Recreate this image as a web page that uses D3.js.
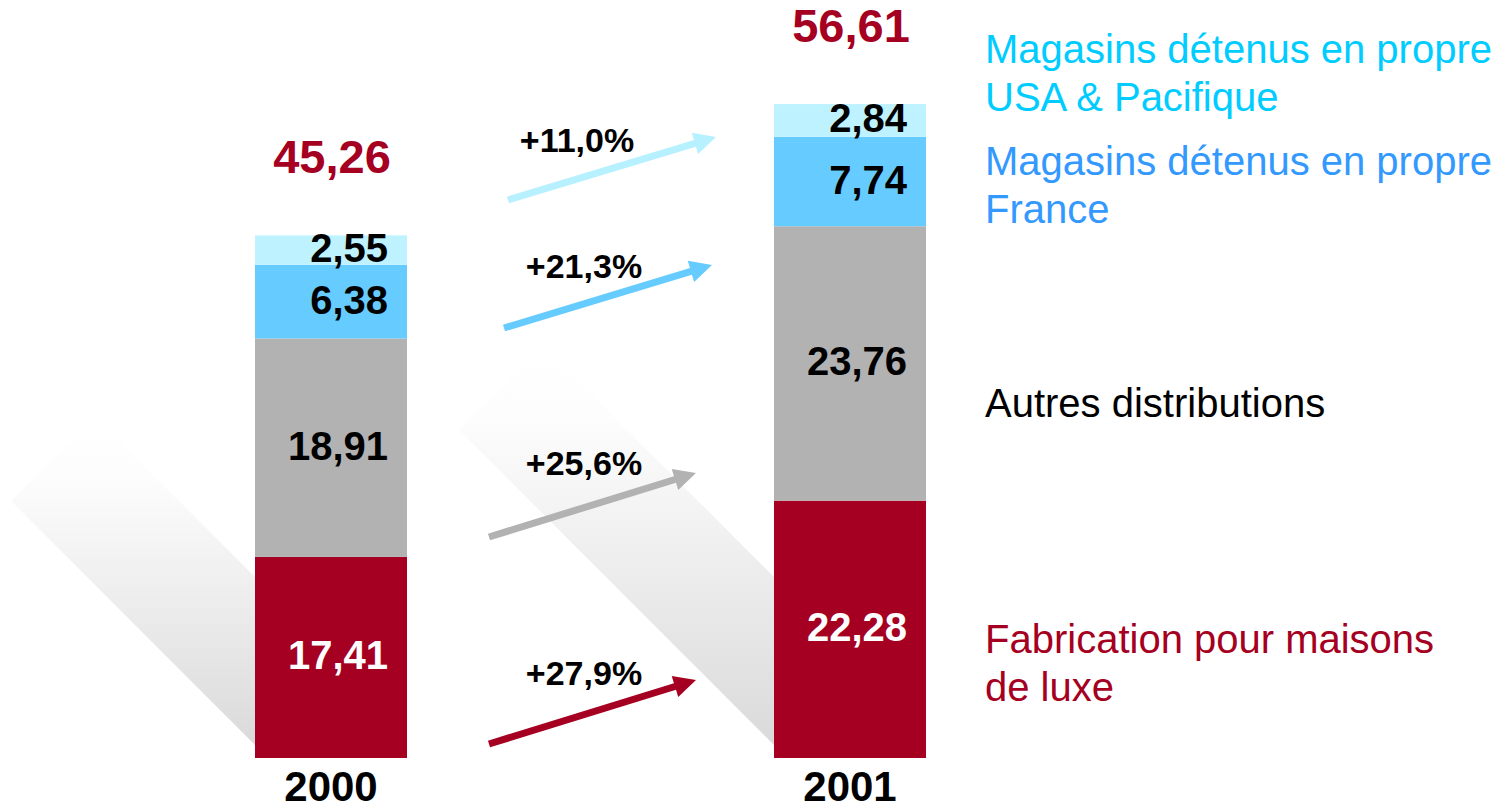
<!DOCTYPE html>
<html>
<head>
<meta charset="utf-8">
<script src="https://cdn.jsdelivr.net/npm/d3@7"></script>
<style>
  html, body { margin: 0; padding: 0; background: #fff; }
  svg { display: block; }
  text { font-family: "Liberation Sans", Arial, sans-serif; }
</style>
</head>
<body>
<svg id="chart" width="1507" height="812"></svg>
<script>
// ---------- DATA ----------
const years = ["2000", "2001"];
const seriesNames = [
  "Fabrication pour maisons de luxe",
  "Autres distributions",
  "Magasins détenus en propre France",
  "Magasins détenus en propre USA & Pacifique"
];
const fabrication = [17.41, 22.28];
const autres = [18.91, 23.76];
const france = [6.38, 7.74];
const usaPacifique = [2.55, 2.84];
const totals = [45.26, 56.61];
const growthLabels = ["+27,9%", "+25,6%", "+21,3%", "+11,0%"];
const legendLines = [
  ["Fabrication pour maisons", "de luxe"],
  ["Autres distributions"],
  ["Magasins détenus en propre", "France"],
  ["Magasins détenus en propre", "USA & Pacifique"]
];

// ---------- STYLE ----------
const colors = ["#a50021", "#b2b2b2", "#66ccff", "#bff2ff"];
const legendColors = ["#a50021", "#000000", "#3399ff", "#00ccff"];
const arrowColors = ["#a50021", "#b2b2b2", "#66ccff", "#b7f0ff"];
const segLabelColors = ["#ffffff", "#000000", "#000000", "#000000"];
const fmt = v => v.toFixed(2).replace(".", ",");

const svg = d3.select("#chart");

// ---------- SCALES ----------
const x = d3.scalePoint().domain(years).range([331, 850]);
const barW = 152;
const y = d3.scaleLinear().domain([0, 60]).range([758, 65]);

const seriesValues = [fabrication, autres, france, usaPacifique];
const rows = years.map((yr, i) => {
  const o = { year: yr };
  seriesNames.forEach((s, k) => { o[s] = seriesValues[k][i]; });
  return o;
});
const stacked = d3.stack().keys(seriesNames)(rows);

// ---------- SHADOWS ----------
const defs = svg.append("defs");
const shadowLen = [244, 315];
years.forEach((yr, i) => {
  const bx = x(yr) - barW / 2;
  const lowY = y(0) - 13;
  const upY = y(0) - 181;
  const L = shadowLen[i];
  const tip = [bx - L, lowY - L];
  const band = lowY - upY;
  const corner = [tip[0] + band / 2, tip[1] - band / 2];
  const gid = "sg" + i;
  const g = defs.append("linearGradient").attr("id", gid)
    .attr("gradientUnits", "userSpaceOnUse")
    .attr("x1", 0).attr("x2", 0).attr("y1", corner[1]).attr("y2", lowY);
  g.append("stop").attr("offset", "0%").attr("stop-color", "#ffffff");
  g.append("stop").attr("offset", "18%").attr("stop-color", "#fdfdfd");
  g.append("stop").attr("offset", "100%").attr("stop-color", "#dadada");
  svg.append("path")
    .attr("d", d3.line()([tip, corner, [bx, upY], [bx, lowY]]) + "Z")
    .attr("fill", `url(#${gid})`);
});

// ---------- BARS ----------
const layers = svg.append("g").selectAll("g").data(stacked).join("g")
  .attr("fill", (d, k) => colors[k]);
layers.selectAll("rect").data(d => d).join("rect")
  .attr("x", d => x(d.data.year) - barW / 2)
  .attr("width", barW)
  .attr("y", d => y(d[1]))
  .attr("height", d => y(d[0]) - y(d[1]));

// segment labels (right aligned)
stacked.forEach((layer, k) => {
  svg.append("g").selectAll("text").data(layer).join("text")
    .attr("x", d => x(d.data.year) + 57)
    .attr("y", d => (y(d[0]) + y(d[1])) / 2 + 12)
    .attr("text-anchor", "end")
    .attr("font-size", 40)
    .attr("font-weight", "bold")
    .attr("fill", segLabelColors[k])
    .text(d => fmt(d[1] - d[0]));
});

// totals
svg.append("g").selectAll("text").data(years).join("text")
  .attr("x", d => x(d) + 1)
  .attr("y", (d, i) => y(totals[i]) - 62)
  .attr("text-anchor", "middle")
  .attr("font-size", 47)
  .attr("font-weight", "bold")
  .attr("fill", "#a50021")
  .text((d, i) => fmt(totals[i]));

// x axis labels
svg.append("g").selectAll("text").data(years).join("text")
  .attr("x", d => x(d))
  .attr("y", 801)
  .attr("text-anchor", "middle")
  .attr("font-size", 42)
  .attr("font-weight", "bold")
  .attr("fill", "#000")
  .text(d => d);

// ---------- GROWTH ARROWS ----------
const arrowLayout = [
  { tail: [489, 744], tip: [696, 680], label: [584, 685] },
  { tail: [489, 537], tip: [696, 473], label: [584, 475] },
  { tail: [504, 328], tip: [712, 265], label: [584, 278] },
  { tail: [508, 200], tip: [716, 137], label: [577, 152] }
];
arrowLayout.forEach((a, k) => {
  const [x0, y0] = a.tail, [x1, y1] = a.tip;
  const dx = x1 - x0, dy = y1 - y0, len = Math.hypot(dx, dy);
  const ux = dx / len, uy = dy / len, px = -uy, py = ux;
  const headL = 22, headW = 11, sw = 3.5;
  const bx = x1 - ux * headL, by = y1 - uy * headL;
  const pts = [
    [x0 + px * sw, y0 + py * sw],
    [bx + px * sw, by + py * sw],
    [bx + px * headW, by + py * headW],
    [x1, y1],
    [bx - px * headW, by - py * headW],
    [bx - px * sw, by - py * sw],
    [x0 - px * sw, y0 - py * sw]
  ];
  svg.append("path").attr("d", d3.line()(pts) + "Z").attr("fill", arrowColors[k]);
  svg.append("text")
    .attr("x", a.label[0]).attr("y", a.label[1])
    .attr("text-anchor", "middle")
    .attr("font-size", 34).attr("font-weight", "bold").attr("fill", "#000")
    .text(growthLabels[k]);
});

// ---------- LEGEND ----------
const legendY = [653, 417, 175, 63];
legendLines.forEach((lines, k) => {
  const t = svg.append("text")
    .attr("x", 985).attr("y", legendY[k])
    .attr("font-size", 40).attr("fill", legendColors[k]);
  lines.forEach((ln, j) => {
    t.append("tspan").attr("x", 985).attr("dy", j === 0 ? 0 : 48).text(ln);
  });
});
</script>
</body>
</html>
